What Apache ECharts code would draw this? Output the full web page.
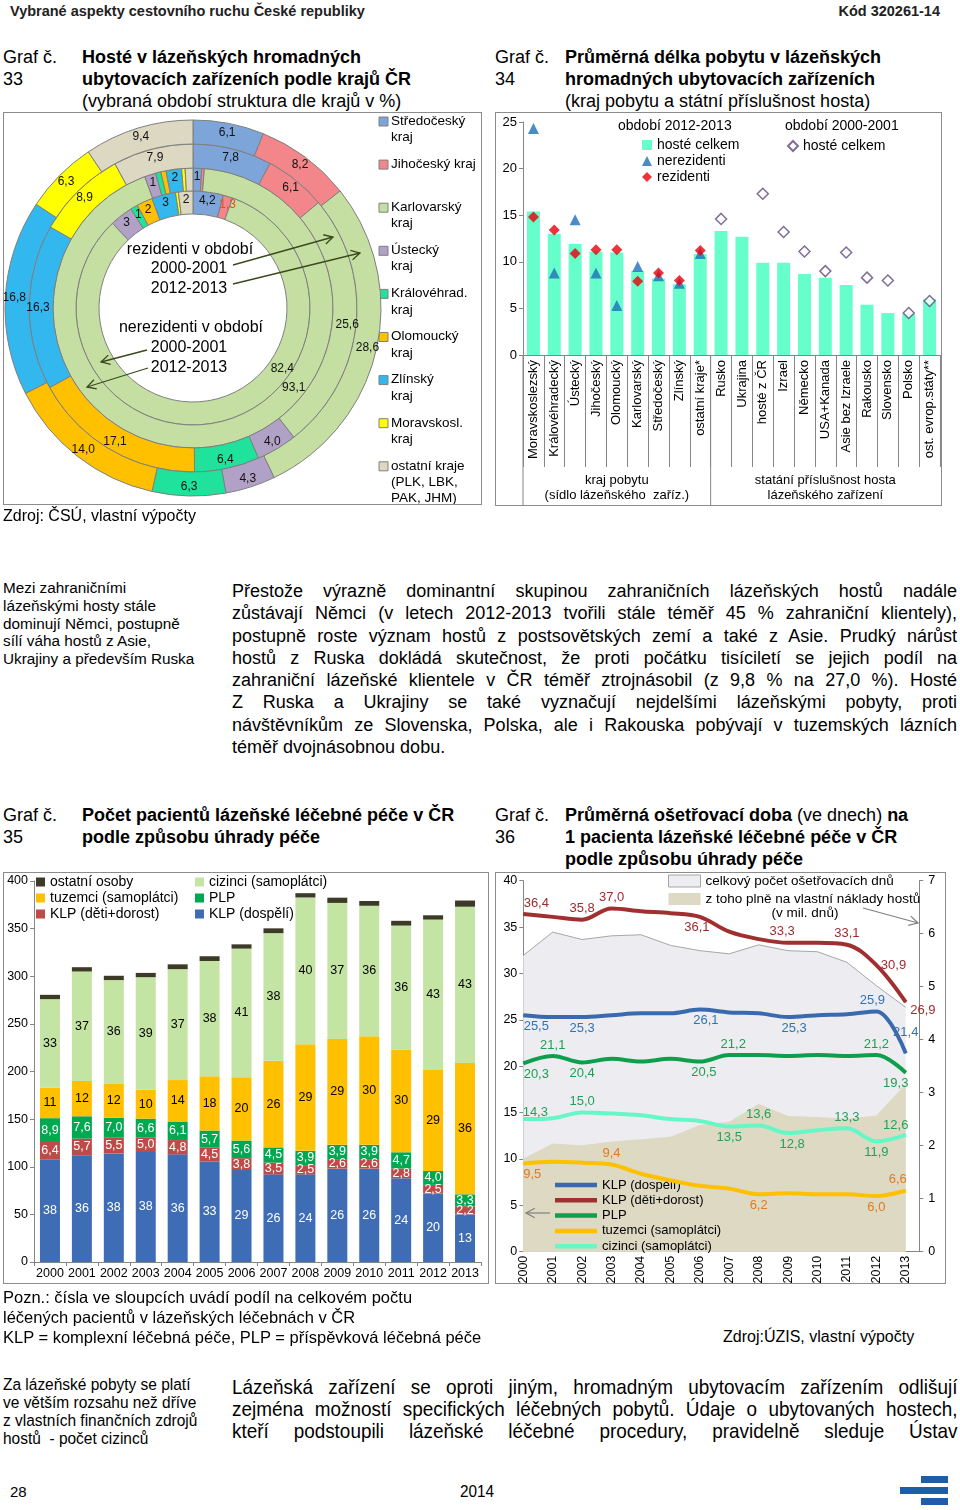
<!DOCTYPE html>
<html><head><meta charset="utf-8">
<script src="https://cdn.jsdelivr.net/npm/echarts@6/dist/echarts.min.js"></script>
<style>
body{margin:0;background:#fff;}
#page{position:relative;width:960px;height:1510px;overflow:hidden;font-family:"Liberation Sans",Arial,sans-serif;color:#000;}
.abs{position:absolute;}
.nw{font-family:"Liberation Sans",Arial,sans-serif;transform:scaleX(0.9);transform-origin:0 0;}
.jl{white-space:nowrap;text-align:justify;text-align-last:justify;}
.box{position:absolute;border:1px solid #8c8c8c;pointer-events:none;box-sizing:border-box;}
.chart{position:absolute;}
</style></head>
<body><div id="page">
<div class="abs" style="left:10px;top:2px;font-size:14.5px;font-weight:bold;line-height:18px;color:#222;">Vybrané aspekty cestovního ruchu České republiky</div>
<div class="abs" style="right:20px;top:2px;font-size:14.5px;font-weight:bold;line-height:18px;color:#222;">Kód 320261-14</div>

<div class="abs" style="left:3px;top:46px;font-size:18px;line-height:22px;">Graf č.<br>33</div>
<div class="abs" style="left:82px;top:46px;font-size:18px;line-height:22px;"><b>Hosté v lázeňských hromadných<br>ubytovacích zařízeních podle krajů ČR</b><br>(vybraná období struktura dle krajů v %)</div>
<div class="abs" style="left:495px;top:46px;font-size:18px;line-height:22px;">Graf č.<br>34</div>
<div class="abs" style="left:565px;top:46px;font-size:18px;line-height:22px;"><b>Průměrná délka pobytu v lázeňských<br>hromadných ubytovacích zařízeních</b><br>(kraj pobytu a státní příslušnost hosta)</div>

<div id="c33" class="chart" style="left:0;top:110px;width:490px;height:400px;"></div>
<div class="box" style="left:3px;top:112px;width:479px;height:393px;"></div>
<div id="c34" class="chart" style="left:490px;top:110px;width:470px;height:400px;"></div>
<div class="box" style="left:495px;top:112px;width:447px;height:394px;"></div>
<div class="abs" style="left:3px;top:505px;font-size:16px;line-height:22px;">Zdroj: ČSÚ, vlastní výpočty</div>

<div class="abs" style="left:3px;top:579px;font-size:15.3px;line-height:17.8px;">Mezi zahraničními<br>lázeňskými hosty stále<br>dominují Němci, postupně<br>sílí váha hostů z Asie,<br>Ukrajiny a především Ruska</div>
<div class="abs" style="left:232px;top:580px;width:725px;font-size:18px;line-height:22.3px;">
<div class="jl">Přestože výrazně dominantní skupinou zahraničních lázeňských hostů nadále</div>
<div class="jl">zůstávají Němci (v letech 2012-2013 tvořili stále téměř 45 % zahraniční klientely),</div>
<div class="jl">postupně roste význam hostů z postsovětských zemí a také z Asie. Prudký nárůst</div>
<div class="jl">hostů z Ruska dokládá skutečnost, že proti počátku tisíciletí se jejich podíl na</div>
<div class="jl">zahraniční lázeňské klientele v ČR téměř ztrojnásobil (z 9,8 % na 27,0 %). Hosté</div>
<div class="jl">Z Ruska a Ukrajiny se také vyznačují nejdelšími lázeňskými pobyty, proti</div>
<div class="jl">návštěvníkům ze Slovenska, Polska, ale i Rakouska pobývají v tuzemských lázních</div>
<div>téměř dvojnásobnou dobu.</div>
</div>

<div class="abs" style="left:3px;top:804px;font-size:18px;line-height:22px;">Graf č.<br>35</div>
<div class="abs" style="left:82px;top:804px;font-size:18px;line-height:22px;"><b>Počet pacientů lázeňské léčebné péče v ČR<br>podle způsobu úhrady péče</b></div>
<div class="abs" style="left:495px;top:804px;font-size:18px;line-height:22px;">Graf č.<br>36</div>
<div class="abs" style="left:565px;top:804px;font-size:18px;line-height:22px;"><b>Průměrná ošetřovací doba</b> (ve dnech) <b>na<br>1 pacienta lázeňské léčebné péče v ČR<br>podle způsobu úhrady péče</b></div>

<div id="c35" class="chart" style="left:0;top:865px;width:495px;height:425px;"></div>
<div class="box" style="left:3px;top:872px;width:486px;height:412px;"></div>
<div id="c36" class="chart" style="left:490px;top:865px;width:470px;height:425px;"></div>
<div class="box" style="left:495px;top:872px;width:451px;height:412px;"></div>

<div class="abs" style="left:3px;top:1287px;font-size:16.5px;line-height:20px;">Pozn.: čísla ve sloupcích uvádí podíl na celkovém počtu<br>léčených pacientů v lázeňských léčebnách v ČR<br>KLP = komplexní léčebná péče, PLP = příspěvková léčebná péče</div>
<div class="abs" style="left:723px;top:1327px;font-size:16px;line-height:20px;">Zdroj:ÚZIS, vlastní výpočty</div>

<div class="abs nw" style="left:3px;top:1375px;font-size:17.2px;line-height:18px;white-space:nowrap;">Za lázeňské pobyty se platí<br>ve větším rozsahu než dříve<br>z vlastních finančních zdrojů<br>hostů&nbsp; - počet cizinců</div>
<div class="abs nw" style="left:232px;top:1376px;width:806px;font-size:21px;line-height:22px;">
<div class="jl">Lázeňská zařízení se oproti jiným, hromadným ubytovacím zařízením odlišují</div>
<div class="jl">zejména možností specifických léčebných pobytů. Údaje o ubytovaných hostech,</div>
<div class="jl">kteří podstoupili lázeňské léčebné procedury, pravidelně sleduje Ústav</div>
</div>

<div class="abs" style="left:10px;top:1483px;font-size:15px;line-height:18px;">28</div>
<div class="abs nw" style="left:460px;top:1483px;font-size:17px;line-height:18px;">2014</div>
<div class="abs" style="left:921px;top:1476px;width:27px;height:7px;background:#1F5DA8;"></div>
<div class="abs" style="left:900px;top:1487px;width:48px;height:7px;background:#1F5DA8;"></div>
<div class="abs" style="left:921px;top:1498px;width:27px;height:7px;background:#1F5DA8;"></div>
</div>

<script>
const FONT = '"Liberation Sans", Arial, sans-serif';

// ---------- Graf 33 data ----------
const regions33 = ['Středočeský kraj','Jihočeský kraj','Karlovarský kraj','Ústecký kraj','Královéhrad. kraj','Olomoucký kraj','Zlínský kraj','Moravskosl. kraj','ostatní kraje (PLK, LBK, PAK, JHM)'];
const legend33 = ['Středočeský\nkraj','Jihočeský kraj','Karlovarský\nkraj','Ústecký\nkraj','Královéhrad.\nkraj','Olomoucký\nkraj','Zlínský\nkraj','Moravskosl.\nkraj','ostatní kraje\n(PLK, LBK,\nPAK, JHM)'];
const nerez2000 = [4.2, 1.3, 82.4, 3.2, 1.0, 2.2, 3.3, 0.4, 2.0];
const nerez2000Lbl = ['4,2','1,3','82,4','3','1','2','3','','2'];
const nerez2012 = [1.0, 0.3, 93.1, 1.3, 0.6, 0.6, 1.8, 0.4, 0.9];
const nerez2012Lbl = ['1','0,3','93,1','1','','','2','',''];
const rez2000 = [7.8, 6.1, 25.6, 4.0, 6.4, 17.1, 16.3, 8.9, 7.9];
const rez2000Lbl = ['7,8','6,1','25,6','4,0','6,4','17,1','16,3','8,9','7,9'];
const rez2012 = [6.1, 8.2, 28.6, 4.3, 6.3, 14.0, 16.8, 6.3, 9.4];
const rez2012Lbl = ['6,1','8,2','28,6','4,3','6,3','14,0','16,8','6,3','9,4'];

// ---------- Graf 34 data ----------
const cats34 = ['Moravskoslezský','Královéhradecký','Ústecký','Jihočeský','Olomoucký','Karlovarský','Středočeský','Zlínský','ostatní kraje*','Rusko','Ukrajina','hosté z ČR','Izrael','Německo','USA+Kanada','Asie bez Izraele','Rakousko','Slovensko','Polsko','ost. evrop.státy**'];
const hoste2012 = [15.4, 13.0, 11.9, 11.1, 11.0, 9.0, 8.2, 7.6, 10.8, 13.3, 12.7, 9.9, 9.9, 8.7, 8.3, 7.5, 5.4, 4.5, 4.4, 6.0];
const nerez34 = [24.3, 8.8, 14.5, 8.8, 5.3, 9.5, 8.5, 7.7, 10.9, null, null, null, null, null, null, null, null, null, null, null];
const rez34 = [14.8, 13.4, 10.9, 11.3, 11.3, 7.9, 8.8, 8.0, 11.2, null, null, null, null, null, null, null, null, null, null, null];
const hoste2000 = [null, null, null, null, null, null, null, null, null, 14.6, null, 17.3, 13.2, 11.1, 9.0, 11.0, 8.3, 8.0, 4.5, 5.8];

// ---------- Graf 35 data (tis. pacientů; popisky = podíl v %) ----------
const years35 = ['2000','2001','2002','2003','2004','2005','2006','2007','2008','2009','2010','2011','2012','2013'];
const klpDosp35 = [108, 112, 114, 115.5, 113, 105.5, 96.5, 92, 92, 98, 98, 88, 72, 50];
const klpDeti35 = [18, 17.5, 16.5, 15, 15, 14.5, 12.5, 12.3, 9.7, 10, 10, 10.2, 9, 8.5];
const plp35 = [25, 23.5, 21, 20, 19, 18, 18.5, 16, 15, 15, 15, 17, 14.5, 12.5];
const tuz35 = [32, 37, 36, 30.5, 44, 57, 66.5, 91, 112, 111, 114, 108, 106, 138];
const ciz35 = [93, 115, 108.5, 118, 116.5, 121, 135, 134, 154, 143, 137, 130, 158, 164];
const ost35 = [4.5, 4.5, 4.5, 4.5, 5, 5, 4.5, 5, 4.5, 5.5, 5, 5, 4.5, 6.5];
const klpDospLbl = ['38','36','38','38','36','33','29','26','24','26','26','24','20','13'];
const klpDetiLbl = ['6,4','5,7','5,5','5,0','4,8','4,5','3,8','3,5','2,5','2,6','2,6','2,8','2,5','2,2'];
const plpLbl = ['8,9','7,6','7,0','6,6','6,1','5,7','5,6','4,5','3,9','3,9','3,9','4,7','4,0','3,3'];
const tuzLbl = ['11','12','12','10','14','18','20','26','29','29','30','30','29','36'];
const cizLbl = ['33','37','36','39','37','38','41','38','40','37','36','36','43','43'];

// ---------- Graf 36 data ----------
const years36 = [2000,2001,2002,2003,2004,2005,2006,2007,2008,2009,2010,2011,2012,2013];
const klpDosp36 = [25.5, 25.3, 25.3, 25.5, 25.7, 25.7, 26.1, 25.8, 25.7, 25.3, 25.5, 25.6, 25.9, 21.4];
const klpDeti36 = [36.4, 36.1, 35.8, 37.0, 36.7, 36.5, 36.1, 34.5, 33.7, 33.3, 33.3, 33.1, 30.9, 26.9];
const plp36 = [20.3, 21.1, 20.4, 20.8, 20.5, 20.8, 20.5, 21.2, 21.2, 21.1, 21.2, 21.1, 21.2, 19.3];
const tuz36 = [9.5, 9.7, 9.6, 9.4, 8.4, 7.7, 7.1, 6.8, 6.2, 6.3, 6.2, 6.2, 6.0, 6.6];
const ciz36 = [14.3, 14.4, 15.0, 14.9, 14.7, 14.3, 14.1, 13.5, 13.6, 12.8, 13.1, 13.3, 11.9, 12.6];
const dnyCelkem36 = [5.59, 6.03, 5.89, 5.96, 5.98, 5.78, 5.68, 5.62, 5.79, 5.68, 5.66, 5.46, 5.02, 4.61];
const dnyVlastni36 = [1.76, 2.04, 2.01, 2.08, 2.12, 2.17, 2.39, 2.45, 2.79, 2.56, 2.54, 2.51, 2.57, 3.17];
const klpDosp36Lbl = ['25,5','','25,3','','','','26,1','','','25,3','','','25,9','21,4'];
const klpDeti36Lbl = ['36,4','','35,8','37,0','','','36,1','','','33,3','','33,1','30,9','26,9'];
const plp36Lbl = ['20,3','21,1','20,4','','','','20,5','21,2','','','','','21,2','19,3'];
const tuz36Lbl = ['9,5','','','9,4','','','','','6,2','','','','6,0','6,6'];
const ciz36Lbl = ['14,3','','15,0','','','','','13,5','13,6','12,8','','13,3','11,9','12,6'];

// ===== helpers =====
function txt(x, y, text, size, opts) {
  opts = opts || {};
  return {type:'text', x:x, y:y, silent:true, z:100, style:{text:text, fontSize:size, fontFamily:FONT, fill:opts.fill||'#000',
    align:opts.align||'left', verticalAlign:opts.va||'middle', textAlign:opts.align||'left', textVerticalAlign:opts.va||'middle', lineHeight:opts.lh||undefined}};
}
function arrow(x1, y1, x2, y2, color, w, h) {
  const a = Math.atan2(y2 - y1, x2 - x1), s = 0.5; h = h || 9;
  return [
    {type:'line', silent:true, z:100, shape:{x1:x1,y1:y1,x2:x2,y2:y2}, style:{stroke:color, lineWidth:w}},
    {type:'polyline', silent:true, z:100, shape:{points:[[x2 - h*Math.cos(a - s), y2 - h*Math.sin(a - s)], [x2, y2], [x2 - h*Math.cos(a + s), y2 - h*Math.sin(a + s)]]}, style:{stroke:color, lineWidth:w, fill:null}}
  ];
}

// ===== Graf 33 =====
(function(){
  const colors = ['#7EA5D9','#F3868B','#C5DFA3','#B2A1C7','#1FE29C','#FFC000','#32B8EE','#FFFF00','#DCD8C2'];
  const rings = [
    {vals:nerez2000, lbl:nerez2000Lbl, r:[94,117]},
    {vals:nerez2012, lbl:nerez2012Lbl, r:[117,140]},
    {vals:rez2000, lbl:rez2000Lbl, r:[140,164]},
    {vals:rez2012, lbl:rez2012Lbl, r:[164,188]}
  ];
  const special = {
    '0-1': {align:'left', color:'#E8501C', offset:[2,0]},
    '1-1': {align:'left', color:'#E8501C', offset:[0,0]},
    '0-2': {offset:[67,-45]},
    '1-2': {offset:[83,-51]}
  };
  const series = rings.map((rg, ri) => ({
    type:'pie', radius:rg.r, center:[193,198], startAngle:90, clockwise:true, silent:true,
    avoidLabelOverlap:false, labelLine:{show:false}, emphasis:{disabled:true}, animation:false,
    itemStyle:{borderColor:'#7f7f7f', borderWidth:1},
    label:{show:true, position:'inside', fontSize:12, fontFamily:FONT, color:'#111'},
    data: rg.vals.map((v, i) => {
      const lab = Object.assign({show: rg.lbl[i] !== '', formatter: rg.lbl[i] || ' '}, special[ri + '-' + i] || {});
      return {value:v, name:regions33[i], itemStyle:{color:colors[i]}, label:lab};
    })
  }));
  const g = [];
  legend33.forEach((t, i) => {
    const y0 = 7 + 43.1 * i;
    g.push({type:'rect', silent:true, shape:{x:379, y:y0, width:9, height:9}, style:{fill:colors[i], stroke:'#808080', lineWidth:1}});
    g.push(txt(391, y0 - 4, t, 13.5, {va:'top', lh:16.3}));
  });
  g.push(txt(190, 140, 'rezidenti v období', 16, {align:'center'}));
  g.push(txt(189, 159, '2000-2001', 16, {align:'center'}));
  g.push(txt(189, 179, '2012-2013', 16, {align:'center'}));
  g.push(txt(191, 218, 'nerezidenti v období', 16, {align:'center'}));
  g.push(txt(189, 238, '2000-2001', 16, {align:'center'}));
  g.push(txt(189, 258, '2012-2013', 16, {align:'center'}));
  const ac = '#3B4A1E';
  g.push(...arrow(233,155,333,127,ac,1.3,10));
  g.push(...arrow(233,174,360,143,ac,1.3,10));
  g.push(...arrow(147,240,101,252,ac,1.3,10));
  g.push(...arrow(148,258,87,277,ac,1.3,10));
  const ch = echarts.init(document.getElementById('c33'));
  ch.setOption({animation:false, textStyle:{fontFamily:FONT}, series:series, graphic:g});
})();

// ===== Graf 34 =====
(function(){
  const miss = a => a.map(v => v == null ? '-' : v);
  const ch = echarts.init(document.getElementById('c34'));
  const ax = '#868686';
  ch.setOption({
    animation:false, textStyle:{fontFamily:FONT},
    grid:{left:33, top:12, width:417, height:233, containLabel:false, outerBoundsMode:'none'},
    xAxis:{type:'category', data:cats34, axisLine:{lineStyle:{color:ax}},
      axisTick:{show:true, interval:0, length:112, lineStyle:{color:ax}},
      axisLabel:{interval:0, rotate:90, fontSize:13, color:'#000', margin:5, fontFamily:FONT}},
    yAxis:{type:'value', min:0, max:25, interval:5, axisLine:{show:true, lineStyle:{color:ax}},
      axisTick:{show:true, length:4, lineStyle:{color:ax}}, splitLine:{show:false},
      axisLabel:{fontSize:13, color:'#000', margin:6, fontFamily:FONT}},
    legend:[
      {data:[{name:'hosté celkem', icon:'rect'}, 'nerezidenti', 'rezidenti'], orient:'vertical', left:152, top:28, padding:0,
        itemWidth:10, itemHeight:10, itemGap:2, selectedMode:false, textStyle:{fontSize:14, color:'#000', lineHeight:14, fontFamily:FONT}},
      {data:['hosté celkem 2000-2001'], formatter:() => 'hosté celkem', orient:'vertical', left:297, top:29, padding:0,
        itemWidth:10, itemHeight:10, selectedMode:false, textStyle:{fontSize:14, color:'#000', lineHeight:14, fontFamily:FONT}}
    ],
    series:[
      {name:'hosté celkem', type:'bar', data:hoste2012, barWidth:13, itemStyle:{color:'#66FFCC'}, silent:true},
      {name:'nerezidenti', type:'scatter', data:miss(nerez34), symbol:'triangle', symbolSize:11, itemStyle:{color:'#1F6FB8'}, silent:true},
      {name:'rezidenti', type:'scatter', data:miss(rez34), symbol:'diamond', symbolSize:11, itemStyle:{color:'#E8000B'}, silent:true},
      {name:'hosté celkem 2000-2001', type:'scatter', data:miss(hoste2000), symbol:'diamond', symbolSize:11, itemStyle:{color:'#fff', borderColor:'#5F4A7E', borderWidth:1.5}, silent:true}
    ]
  });
  const p8 = ch.convertToPixel({xAxisIndex:0}, cats34[8]);
  const p9 = ch.convertToPixel({xAxisIndex:0}, cats34[9]);
  const x0 = ch.convertToPixel({xAxisIndex:0}, cats34[0]) - (p9 - p8) / 2;
  const xLast = ch.convertToPixel({xAxisIndex:0}, cats34[19]);
  const xb = (p8 + p9) / 2;
  const yb = ch.convertToPixel({yAxisIndex:0}, 0);
  const g = [
    {type:'line', silent:true, shape:{x1:xb, y1:yb, x2:xb, y2:396}, style:{stroke:ax, lineWidth:1}},
    {type:'line', silent:true, shape:{x1:x0, y1:yb, x2:x0, y2:396}, style:{stroke:ax, lineWidth:1}},
    txt(128, 16, 'období 2012-2013', 14),
    txt(295, 16, 'období 2000-2001', 14),
    txt((x0 + xb) / 2, 370, 'kraj pobytu', 13, {align:'center'}),
    txt((x0 + xb) / 2, 385, '(sídlo lázeňského  zaříz.)', 13, {align:'center'}),
    txt((xb + xLast + (p9 - p8) / 2) / 2, 370, 'statání příslušnost hosta', 13, {align:'center'}),
    txt((xb + xLast + (p9 - p8) / 2) / 2, 385, 'lázeňského zařízení', 13, {align:'center'})
  ];
  ch.setOption({graphic:g});
})();

// ===== Graf 35 =====
(function(){
  const ch = echarts.init(document.getElementById('c35'));
  const ax = '#868686';
  const mk = (name, data, lbl, color, lblColor) => ({
    name:name, type:'bar', stack:'a', data:data, barWidth:20, silent:true, itemStyle:{color:color},
    label:{show: !!lbl, position:'inside', fontSize:12.5, fontFamily:FONT, color:lblColor,
      formatter: p => lbl ? lbl[p.dataIndex] : ''}
  });
  ch.setOption({
    animation:false, textStyle:{fontFamily:FONT},
    grid:{left:34, top:16, width:447, height:381, containLabel:false, outerBoundsMode:'none'},
    xAxis:{type:'category', data:years35, axisLine:{lineStyle:{color:ax}},
      axisTick:{show:true, interval:0, length:4, lineStyle:{color:ax}},
      axisLabel:{interval:0, fontSize:12.5, color:'#000', margin:5, fontFamily:FONT}},
    yAxis:{type:'value', min:0, max:400, interval:50, axisLine:{show:true, lineStyle:{color:ax}},
      axisTick:{show:true, length:4, lineStyle:{color:ax}}, splitLine:{show:false},
      axisLabel:{fontSize:12.5, color:'#000', margin:6, fontFamily:FONT}},
    legend:{data:['ostatní osoby','cizinci (samoplátci)','tuzemci (samoplátci)','PLP','KLP (děti+dorost)','KLP (dospělí)'],
      left:36, top:9, width:330, padding:0, itemWidth:9, itemHeight:9, itemGap:0, icon:'rect', selectedMode:false,
      textStyle:{fontSize:14, color:'#000', width:145, lineHeight:16, fontFamily:FONT}},
    series:[
      mk('KLP (dospělí)', klpDosp35, klpDospLbl, '#3E6DB5', '#fff'),
      mk('KLP (děti+dorost)', klpDeti35, klpDetiLbl, '#BE4B48', '#fff'),
      mk('PLP', plp35, plpLbl, '#00A850', '#fff'),
      mk('tuzemci (samoplátci)', tuz35, tuzLbl, '#FFC000', '#000'),
      mk('cizinci (samoplátci)', ciz35, cizLbl, '#C4E4A4', '#000'),
      mk('ostatní osoby', ost35, null, '#3D3A28', '#000')
    ]
  });
})();

// ===== Graf 36 =====
(function(){
  const ch = echarts.init(document.getElementById('c36'));
  const ax = '#868686';
  // label placement (layout only)
  const pos = {
    dosp:{0:['bottom',[13,0]],2:['bottom'],6:['bottom',[6,0]],9:['bottom',[6,0]],12:['top',[-4,0]],13:['top',[0,-10]]},
    deti:{0:['top',[13,0]],2:['top'],3:['top'],6:['bottom',[-3,0]],9:['top',[-6,0]],11:['top'],12:['right',[0,0]],13:['right',[0,8]]},
    plp:{0:['bottom',[13,0]],1:['top'],2:['bottom'],6:['bottom',[4,0]],7:['top',[4,0]],12:['top'],13:['bottom',[-10,0]]},
    tuz:{0:['bottom',[9,0]],3:['top'],8:['bottom'],12:['bottom'],13:['top',[-8,0]]},
    ciz:{0:['top',[12,4]],2:['top'],7:['bottom'],8:['top'],9:['bottom',[4,0]],11:['top'],12:['bottom'],13:['top',[-10,2]]}
  };
  const line = (name, vals, lbl, key, color, lblColor) => ({
    name:name, type:'line', yAxisIndex:0, smooth:0.35, symbol:'circle', symbolSize:1, showSymbol:true, silent:true, z:5,
    lineStyle:{width:4, color:color}, itemStyle:{color:color},
    data: vals.map((v, i) => {
      const p = pos[key][i] || ['top'];
      return {value:[years36[i], v],
        label:{show: lbl[i] !== '', formatter: lbl[i] || ' ', position: p[0], offset: p[1] || [0,0], distance:4,
          color:lblColor, fontSize:13, fontFamily:FONT}};
    })
  });
  const pairs = a => a.map((v, i) => [years36[i], v]);
  const g = [
    txt(315, 48, '(v mil. dnů)', 13.5, {align:'center'}),
    ...arrow(373, 43, 428, 58, '#808080', 1.2, 10),
    {type:'polyline', silent:true, shape:{points:[[67,315],[62,315],[62,382],[67,382]]}, style:{stroke:'#808080', lineWidth:1, fill:null}},
    ...arrow(60, 348, 36, 348, '#808080', 1.2, 10)
  ];
  const lineNames = ['KLP (dospělí)','KLP (děti+dorost)','PLP','tuzemci (samoplátci)','cizinci (samoplátci)'];
  const lineCols = ['#3A6AAE','#A0302F','#0E9E4C','#FFC000','#66F7C6'];
  ch.setOption({
    animation:false, textStyle:{fontFamily:FONT},
    grid:{left:33.3, top:15.7, width:396, height:371, containLabel:false, outerBoundsMode:'none'},
    xAxis:{type:'value', min:2000, max:2013.46, interval:1, axisLine:{lineStyle:{color:ax}}, axisTick:{show:false}, splitLine:{show:false},
      axisLabel:{rotate:90, fontSize:12.5, color:'#000', margin:4, fontFamily:FONT,
        formatter: v => (Math.abs(v - Math.round(v)) < 1e-6 && v <= 2013) ? String(Math.round(v)) : ''}},
    yAxis:[
      {type:'value', min:0, max:40, interval:5, position:'left', axisLine:{show:true, lineStyle:{color:ax}},
        axisTick:{show:true, length:4, lineStyle:{color:ax}}, splitLine:{show:false},
        axisLabel:{fontSize:12.5, color:'#000', margin:6, fontFamily:FONT}},
      {type:'value', min:0, max:7, interval:1, position:'right', axisLine:{show:true, lineStyle:{color:ax}},
        axisTick:{show:true, length:4, lineStyle:{color:ax}}, splitLine:{show:false},
        axisLabel:{fontSize:12.5, color:'#000', margin:9, fontFamily:FONT}}
    ],
    legend:[
      {data: lineNames.map((n, i) => ({name:n, icon:'rect', itemStyle:{color:lineCols[i]}})),
        orient:'vertical', left:65, top:313, padding:0, itemWidth:42, itemHeight:4.5, itemGap:1.3, selectedMode:false,
        textStyle:{fontSize:13, color:'#000', lineHeight:14, fontFamily:FONT}},
      {data:[{name:'celkový počet ošetřovacích dnů', icon:'rect', itemStyle:{color:'#EDEDF1', borderColor:'#A6A6A6', borderWidth:1}},
             {name:'z toho plně na vlastní náklady hostů', icon:'rect', itemStyle:{color:'#DDD9C3'}}],
        orient:'vertical', left:178, top:9, padding:0, itemWidth:32, itemHeight:12, itemGap:4, selectedMode:false,
        textStyle:{fontSize:13.5, color:'#000', lineHeight:13, fontFamily:FONT}}
    ],
    series:[
      {name:'celkový počet ošetřovacích dnů', type:'line', yAxisIndex:1, data:pairs(dnyCelkem36), symbol:'none', silent:true, z:1,
        lineStyle:{color:'#A6A6A6', width:1}, itemStyle:{color:'#EDEDF1'}, areaStyle:{color:'#EDEDF1', opacity:1}},
      {name:'z toho plně na vlastní náklady hostů', type:'line', yAxisIndex:1, data:pairs(dnyVlastni36), symbol:'none', silent:true, z:2,
        lineStyle:{width:0, color:'#DDD9C3'}, itemStyle:{color:'#DDD9C3'}, areaStyle:{color:'#DDD9C3', opacity:1}},
      line(lineNames[0], klpDosp36, klpDosp36Lbl, 'dosp', lineCols[0], '#2E74B5'),
      line(lineNames[1], klpDeti36, klpDeti36Lbl, 'deti', lineCols[1], '#9E2A2F'),
      line(lineNames[2], plp36, plp36Lbl, 'plp', lineCols[2], '#1E9E50'),
      line(lineNames[3], tuz36, tuz36Lbl, 'tuz', lineCols[3], '#E07A1F'),
      line(lineNames[4], ciz36, ciz36Lbl, 'ciz', lineCols[4], '#25A05C')
    ],
    graphic:g
  });
})();
</script>
</body></html>
